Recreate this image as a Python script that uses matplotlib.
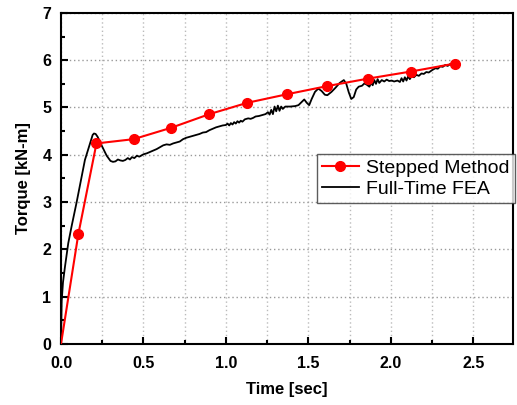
import matplotlib.pyplot as plt
from matplotlib.ticker import MultipleLocator

# stepped method points
t_step = [0, 0.105, 0.215, 0.44, 0.667, 0.90, 1.13, 1.37, 1.61, 1.86, 2.12, 2.39]
q_step = [0, 2.32, 4.24, 4.33, 4.57, 4.86, 5.10, 5.28, 5.45, 5.61, 5.76, 5.93]

# full-time FEA curve
t_fea = [0.000, 0.004, 0.012, 0.024, 0.044, 0.065, 0.095, 0.120, 0.145, 0.176,
         0.192, 0.200, 0.210, 0.222, 0.246, 0.277, 0.300, 0.315, 0.330, 0.345,
         0.360, 0.375, 0.390, 0.405, 0.418, 0.430, 0.445, 0.460, 0.475, 0.500,
         0.520, 0.540, 0.560, 0.580, 0.600, 0.620, 0.640, 0.660, 0.680, 0.700,
         0.720, 0.740, 0.760, 0.780, 0.800, 0.820, 0.840, 0.860, 0.880, 0.900,
         0.920, 0.940, 0.960, 0.980, 1.000, 1.010, 1.020, 1.030, 1.040, 1.050,
         1.060, 1.070, 1.080, 1.090, 1.100, 1.115, 1.135, 1.150, 1.165, 1.180,
         1.200, 1.220, 1.240, 1.255, 1.265, 1.275, 1.285, 1.295, 1.305, 1.315,
         1.325, 1.335, 1.345, 1.360, 1.390, 1.420, 1.440, 1.460, 1.475, 1.490,
         1.505, 1.520, 1.540, 1.560, 1.580, 1.600, 1.615, 1.640, 1.665, 1.690,
         1.715, 1.730, 1.745, 1.760, 1.775, 1.790, 1.805, 1.825, 1.840, 1.855,
         1.870, 1.880, 1.890, 1.900, 1.910, 1.920, 1.930, 1.945, 1.960, 1.975,
         1.990, 2.005, 2.020, 2.040, 2.055, 2.065, 2.075, 2.085, 2.095, 2.105,
         2.115, 2.125, 2.140, 2.155, 2.170, 2.186, 2.200, 2.215, 2.230, 2.250,
         2.270, 2.285, 2.300, 2.315, 2.330, 2.345, 2.360, 2.375, 2.390, 2.400]
q_fea = [0.00, 0.90, 1.30, 1.63, 2.13, 2.50, 3.00, 3.45, 3.89, 4.24,
         4.42, 4.45, 4.44, 4.38, 4.20, 3.98, 3.87, 3.85, 3.86, 3.90,
         3.88, 3.87, 3.89, 3.93, 3.90, 3.95, 3.93, 3.98, 3.96, 4.01,
         4.03, 4.06, 4.09, 4.12, 4.16, 4.20, 4.22, 4.21, 4.24, 4.26,
         4.28, 4.33, 4.36, 4.38, 4.40, 4.42, 4.44, 4.47, 4.48, 4.52,
         4.55, 4.58, 4.60, 4.62, 4.63, 4.66, 4.62, 4.67, 4.64, 4.69,
         4.66, 4.71, 4.68, 4.72, 4.70, 4.75, 4.77, 4.76, 4.78, 4.81,
         4.82, 4.84, 4.86, 4.90, 4.85, 4.95, 4.86, 5.02, 4.92, 5.04,
         4.93, 5.02, 4.97, 5.02, 5.02, 5.03, 5.05, 5.12, 5.17, 5.10,
         5.05, 5.18, 5.33, 5.40, 5.35, 5.27, 5.26, 5.33, 5.42, 5.52,
         5.58, 5.50, 5.32, 5.18, 5.22, 5.38, 5.44, 5.46, 5.51, 5.48,
         5.44, 5.52, 5.47, 5.58, 5.50, 5.60, 5.52, 5.58, 5.55, 5.59,
         5.56, 5.57, 5.55, 5.57, 5.54, 5.62, 5.55, 5.64, 5.57, 5.66,
         5.60, 5.66, 5.64, 5.69, 5.67, 5.72, 5.71, 5.75, 5.74, 5.79,
         5.83, 5.82, 5.87, 5.86, 5.90, 5.88, 5.92, 5.90, 5.93, 5.92]

plt.rcParams['font.family'] = ['Liberation Sans', 'DejaVu Sans']

fig = plt.figure(figsize=(5.17, 4.05), dpi=100)
ax = fig.add_axes([0.118, 0.151, 0.874, 0.817])

ax.plot(t_step, q_step, color='red', lw=1.5, marker='o', ms=7,
        markevery=list(range(1, len(t_step))), label='Stepped Method', zorder=3)
ax.plot(t_fea, q_fea, color='black', lw=1.3, label='Full-Time FEA', zorder=2)

ax.set_xlim(0, 2.74)
ax.set_ylim(0, 7)
ax.xaxis.set_major_locator(MultipleLocator(0.5))
ax.xaxis.set_minor_locator(MultipleLocator(0.25))
ax.yaxis.set_major_locator(MultipleLocator(1))
ax.yaxis.set_minor_locator(MultipleLocator(0.5))
ax.xaxis.set_major_formatter(lambda v, p: f'{v:.1f}')

ax.grid(True, which='major', axis='y', color='#999999', ls=(0, (1, 2)), lw=1)
ax.grid(True, which='both', axis='x', color='#bbbbbb', ls=(0, (1, 2)), lw=1)
ax.set_axisbelow(True)

ax.tick_params(which='both', direction='in', top=False, right=False,
               width=1.5, labelsize=11.5)
ax.tick_params(which='major', length=5)
ax.tick_params(which='minor', length=3)
ax.tick_params(axis='x', pad=9)
ax.tick_params(axis='y', pad=7)
for lab in ax.get_xticklabels() + ax.get_yticklabels():
    lab.set_fontweight('bold')
for s in ax.spines.values():
    s.set_linewidth(1.5)

ax.set_xlabel('Time [sec]', fontsize=12, fontweight='bold', labelpad=8)
ax.set_ylabel('Torque [kN-m]', fontsize=12, fontweight='bold', labelpad=8)

leg = ax.legend(loc='upper left', bbox_to_anchor=(0.566, 0.573), fontsize=14,
                frameon=True, fancybox=False, edgecolor='#333333',
                borderpad=0.25, labelspacing=0.2, handlelength=1.9,
                handletextpad=0.4, borderaxespad=0)
leg.get_frame().set_linewidth(1.0)

fig.savefig('out.png', dpi=100)
